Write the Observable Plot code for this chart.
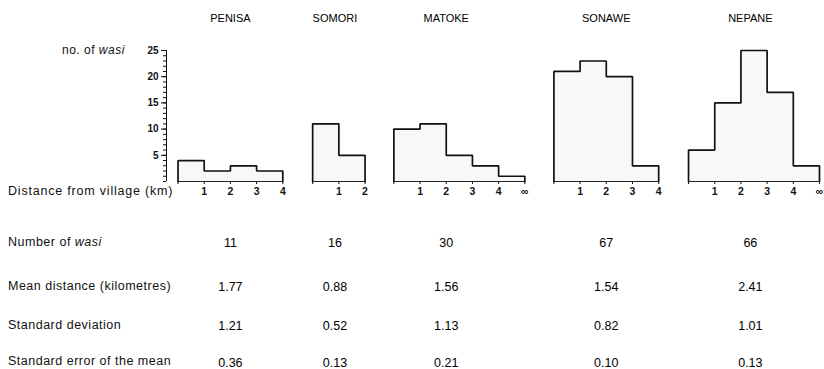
<!DOCTYPE html>
<html>
<head>
<meta charset="utf-8">
<script src="https://cdn.jsdelivr.net/npm/d3@7"></script>
<script src="https://cdn.jsdelivr.net/npm/@observablehq/plot@0.6"></script>
<style>
  html, body { margin: 0; padding: 0; background: #fff; }
  #wrap { position: relative; width: 824px; height: 369px; font-family: "Liberation Sans", Arial, sans-serif; color: #111; overflow: hidden; }
  #wrap svg { position: absolute; left: 0; top: 0; }
  .lbl { position: absolute; white-space: nowrap; line-height: 14px; height: 14px; font-size: 12.5px; letter-spacing: 0.5px; }
  g[aria-label="titles"] text { letter-spacing: 1px; }
</style>
</head>
<body>
<div id="wrap"></div>
<script>
// ---- data ----
const villages = ["PENISA", "SOMORI", "MATOKE", "SONAWE", "NEPANE"];
const penisaCounts = [4, 2, 3, 2];
const somoriCounts = [11, 5];
const matokeCounts = [10, 11, 5, 3, 1];
const sonaweCounts = [21, 23, 20, 3];
const nepaneCounts = [6, 15, 25, 17, 3];
const openEndedLastBin = [false, false, true, false, true];
const numberOfWasi = ["11", "16", "30", "67", "66"];
const meanDistance = ["1.77", "0.88", "1.56", "1.54", "2.41"];
const standardDeviation = ["1.21", "0.52", "1.13", "0.82", "1.01"];
const standardError = ["0.36", "0.13", "0.21", "0.10", "0.13"];
const yTicks = [5, 10, 15, 20, 25];

// ---- layout (km units along the shared x scale) ----
const layout = {
  panelOffset: [0, 5.14, 8.24, 14.35, 19.49],
  labelCenter: [2, 0.85, 2, 2, 2.36],
  xStart: -0.44
};
const rows = [
  {values: numberOfWasi, dy: 61},
  {values: meanDistance, dy: 105},
  {values: standardDeviation, dy: 144},
  {values: standardError, dy: 181}
];

const counts = [penisaCounts, somoriCounts, matokeCounts, sonaweCounts, nepaneCounts];

const bins = [];
const outline = [];
const panels = [];
const tickPos = [];
const tickLabel = new Map();
counts.forEach((c, v) => {
  const o = layout.panelOffset[v];
  const n = c.length;
  panels.push({v, x1: o, x2: o + n});
  outline.push({v, x: o, y: 0});
  c.forEach((val, i) => {
    bins.push({v, x1: o + i, x2: o + i + 1, y: val});
    outline.push({v, x: o + i, y: val});
    outline.push({v, x: o + i + 1, y: val});
  });
  outline.push({v, x: o + n, y: 0});
  for (let i = 0; i <= n; i++) {
    const p = o + i;
    tickPos.push(p);
    tickLabel.set(p, i === 0 ? "" : (i === n && openEndedLastBin[v] ? "∞" : String(i)));
  }
});
const xEnd = layout.panelOffset[4] + nepaneCounts.length;

const colX = (d, i) => layout.panelOffset[i] + layout.labelCenter[i];

const marks = [
  Plot.rectY(bins, {x1: "x1", x2: "x2", y: "y", fill: "#f8f8f8", inset: 0}),
  Plot.ruleY(panels, {y: 0, x1: "x1", x2: "x2", stroke: "#222", strokeWidth: 1}),
  Plot.line(outline, {x: "x", y: "y", z: "v", stroke: "#111", strokeWidth: 1.7, strokeLinejoin: "miter"}),
  Plot.ruleX([layout.xStart], {y1: 0, y2: 25, stroke: "#111", strokeWidth: 1}),
  Plot.axisY({ticks: d3.range(0, 26), tickSize: 3, tickFormat: () => ""}),
  Plot.axisY({ticks: yTicks, tickSize: 5, tickPadding: 3, fontSize: 10, fontWeight: "bold"}),
  Plot.axisX({ticks: tickPos, tickFormat: d => tickLabel.get(d), tickSize: 3, tickPadding: 3, fontSize: 10.5, fontWeight: "bold"}),
  Plot.text(villages, {x: colX, text: d => d, frameAnchor: "top", lineAnchor: "middle", dy: -32, fontSize: 11, fill: "#000", ariaLabel: "titles"})
];
rows.forEach(r => {
  marks.push(Plot.text(r.values, {x: colX, text: d => d, frameAnchor: "bottom", lineAnchor: "middle", dy: r.dy, fontSize: 12.5, fill: "#000"}));
});

const chart = Plot.plot({
  width: 824,
  height: 369,
  marginLeft: 166,
  marginRight: 5,
  marginTop: 50,
  marginBottom: 188,
  style: {fontFamily: "Liberation Sans, Arial, sans-serif", color: "#111", background: "transparent", overflow: "visible"},
  x: {domain: [layout.xStart, xEnd], label: null},
  y: {domain: [0, 25], label: null},
  marks
});

const wrap = document.getElementById("wrap");
wrap.appendChild(chart);

function addLabel(html, left, centerY, extra) {
  const d = document.createElement("div");
  d.className = "lbl";
  d.innerHTML = html;
  d.style.left = left + "px";
  d.style.top = (centerY - 7) + "px";
  if (extra) Object.assign(d.style, extra);
  wrap.appendChild(d);
  return d;
}
const rowLabels = ["Number of <i>wasi</i>", "Mean distance (kilometres)", "Standard deviation", "Standard error of the mean"];
const rowCenters = [242, 286, 325, 361];
rowLabels.forEach((t, i) => addLabel(t, 8, rowCenters[i]));
addLabel("Distance from village (km)", 8, 191, {letterSpacing: "0.8px"});
const yl = addLabel("no. of <i>wasi</i>", 0, 50, {fontSize: "12px"});
yl.style.left = (125 - yl.offsetWidth) + "px";
</script>
</body>
</html>
